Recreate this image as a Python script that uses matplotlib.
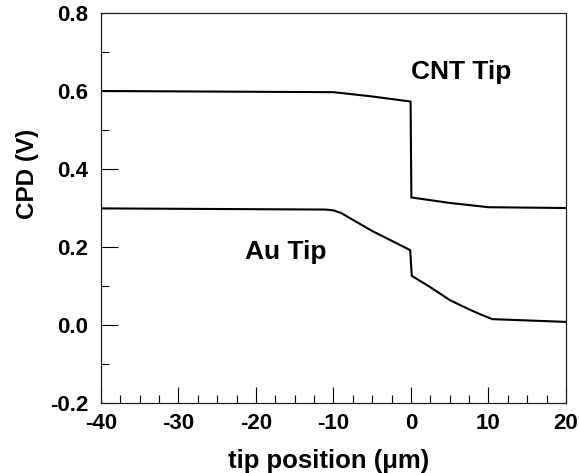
import matplotlib
matplotlib.use("Agg")
import matplotlib.pyplot as plt
from matplotlib.ticker import MultipleLocator

plt.rcParams['font.family'] = ['Liberation Sans', 'DejaVu Sans']
plt.rcParams['font.weight'] = 'bold'

# CNT tip curve
cnt_x = [-40, -10, -5, -0.05, 0.05, 5, 10, 20]
cnt_y = [0.600, 0.597, 0.586, 0.573, 0.327, 0.313, 0.302, 0.300]

# Au tip curve
au_x = [-40, -11, -10, -9, -5, -0.1, 0.1, 2.5, 5, 7.5, 9, 10.5, 20]
au_y = [0.299, 0.296, 0.294, 0.287, 0.241, 0.192, 0.126, 0.097, 0.064, 0.040, 0.027, 0.015, 0.008]

xticks = [-40, -30, -20, -10, 0, 10, 20]
yticks = [-0.2, 0.0, 0.2, 0.4, 0.6, 0.8]

fig = plt.figure(figsize=(5.79, 4.73), dpi=100)
ax = fig.add_axes([0.1744, 0.148, 0.8031, 0.8245])

ax.plot(cnt_x, cnt_y, color='black', lw=1.5)
ax.plot(au_x, au_y, color='black', lw=1.5)

ax.set_xlim(-40, 20)
ax.set_ylim(-0.2, 0.8)
ax.set_xticks(xticks)
ax.set_yticks(yticks)
ax.set_xticklabels([f"{v:d}" for v in xticks])
ax.set_yticklabels([f"{v:.1f}" for v in yticks])
ax.xaxis.set_minor_locator(MultipleLocator(2.5))
ax.yaxis.set_minor_locator(MultipleLocator(0.1))

ax.tick_params(which='both', direction='in', top=False, right=False, labelsize=16)
ax.tick_params(axis='y', which='major', length=12, width=0.8, pad=9)
ax.tick_params(axis='y', which='minor', length=6, width=0.8)
ax.tick_params(axis='x', which='major', length=11.5, width=0.8, pad=7)
ax.tick_params(axis='x', which='minor', length=5.8, width=0.8)
for lab in ax.get_xticklabels() + ax.get_yticklabels():
    lab.set_fontweight('bold')

for s in ax.spines.values():
    s.set_linewidth(0.9)
    s.set_color('#222222')

ax.set_xlabel('tip position (μm)', fontsize=18.5, fontweight='bold')
ax.xaxis.set_label_coords(0.490, -0.118)
ax.set_ylabel('CPD (V)', fontsize=17.5, fontweight='bold')
ax.yaxis.set_label_coords(-0.157, 0.587)
ax.yaxis.label.set_va('center')

ax.text(6.5, 0.649, 'CNT Tip', fontsize=19, fontweight='bold', ha='center', va='center')
ax.text(-16.2, 0.187, 'Au Tip', fontsize=19, fontweight='bold', ha='center', va='center')

fig.savefig('out.png', dpi=100)
